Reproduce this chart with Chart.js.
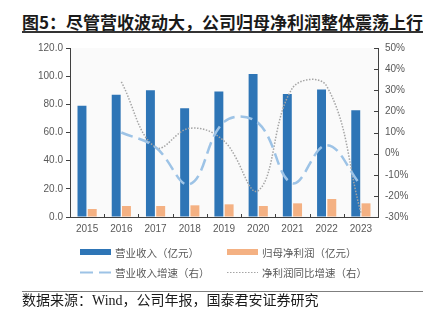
<!DOCTYPE html>
<html>
<head>
<meta charset="utf-8">
<script src="https://cdn.jsdelivr.net/npm/chart.js@4.4.1/dist/chart.umd.min.js"></script>
<style>
  html, body { margin: 0; padding: 0; background: #fff; }
  #wrap { position: relative; width: 439px; height: 323px; overflow: hidden; }
  #chart { position: absolute; left: 0; top: 0; }
  .title {
    position: absolute; left: 22px; top: 12px; white-space: nowrap;
    font: bold 17px "Noto Sans CJK SC", sans-serif; line-height: 20px; color: #1a1a1a;
  }
  .rule { position: absolute; left: 22px; width: 401px; }
  .legend-item {
    position: absolute; white-space: nowrap; height: 14px; line-height: 14px;
    font: 10.5px "Noto Sans CJK SC", sans-serif; color: #595959;
  }
  .legend-item svg { position: absolute; left: 0; top: 0; }
  .legend-item span { position: absolute; left: 35px; top: 0; }
  .source {
    position: absolute; left: 22px; top: 292px; white-space: nowrap;
    font: 14px "Liberation Serif", "Noto Sans CJK SC", serif; line-height: 18px; color: #1a1a1a;
  }
</style>
</head>
<body>
<div id="wrap">
  <div class="title">图5：尽管营收波动大，公司归母净利润整体震荡上行</div>
  <div class="rule" style="top:31px;height:2px;background:#333;"></div>
  <canvas id="chart" width="439" height="323"></canvas>
  <div id="legend"></div>
  <div class="rule" style="top:291px;height:1px;background:#7f7f7f;"></div>
  <div class="source">数据来源：Wind，公司年报，国泰君安证券研究</div>
</div>
<script>
const years = ["2015", "2016", "2017", "2018", "2019", "2020", "2021", "2022", "2023"];
const revenue = [79.0, 86.8, 90.0, 77.2, 89.2, 101.5, 87.3, 90.6, 75.8];
const netProfit = [5.7, 7.8, 7.8, 8.3, 9.0, 7.8, 9.7, 12.8, 9.7];
const revenueGrowth = [null, 10, 3, -14.5, 15, 14.5, -14, 4, -15];
const profitGrowth = [null, 34, 3, 12, 6, -17.5, 31, 32, -28];

const leftTicks = [0, 20, 40, 60, 80, 100, 120];
const rightTicks = [-30, -20, -10, 0, 10, 20, 30, 40, 50];

const BLUE = "#2E75B6";
const ORANGE = "#F4B183";
const LIGHT_BLUE = "#9DC3E6";
const GREY = "#A5A5A5";
const AXIS = "#404040";
const LABEL = "#595959";

Chart.defaults.font.family = "'Liberation Sans', Arial, sans-serif";
Chart.defaults.font.size = 10;
Chart.defaults.color = LABEL;

const legendItems = [
  { label: "营业收入（亿元）", x: 80, y: 245, kind: "box", color: BLUE },
  { label: "归母净利润（亿元）", x: 227, y: 245, kind: "box", color: ORANGE },
  { label: "营业收入增速（右）", x: 80, y: 265, kind: "dash", color: LIGHT_BLUE },
  { label: "净利润同比增速（右）", x: 227, y: 265, kind: "dot", color: GREY },
];

function renderLegend() {
  document.querySelector("#legend").innerHTML = legendItems
    .map((item) => {
      let mark;
      if (item.kind === "box") {
        mark = `<rect x="0" y="4" width="31" height="6" fill="${item.color}"/>`;
      } else if (item.kind === "dash") {
        mark = `<line x1="0" y1="7.5" x2="31" y2="7.5" stroke="${item.color}" stroke-width="2" stroke-dasharray="13 6"/>`;
      } else {
        mark = `<line x1="0" y1="7.5" x2="31" y2="7.5" stroke="${item.color}" stroke-width="1" stroke-dasharray="1.5 1.5"/>`;
      }
      return `
        <div class="legend-item" style="left:${item.x}px;top:${item.y}px;">
          <svg width="32" height="14">${mark}</svg>
          <span>${item.label}</span>
        </div>`;
    })
    .join("");
}

// plot background plus the small inward ticks on the right and bottom axes
const axisDecor = {
  id: "axisDecor",
  beforeDraw(chart) {
    const { ctx, chartArea } = chart;
    ctx.save();
    ctx.fillStyle = "#FAFAFA";
    ctx.fillRect(chartArea.left, chartArea.top, chartArea.right - chartArea.left, chartArea.bottom - chartArea.top);
    ctx.restore();
  },
  afterDraw(chart) {
    const { ctx, chartArea, scales } = chart;
    ctx.save();
    ctx.strokeStyle = AXIS;
    ctx.lineWidth = 1;
    ctx.beginPath();
    rightTicks.forEach((value) => {
      const y = Math.round(scales.y1.getPixelForValue(value)) + 0.5;
      ctx.moveTo(chartArea.right - 4, y);
      ctx.lineTo(chartArea.right, y);
    });
    const step = (chartArea.right - chartArea.left) / years.length;
    for (let i = 1; i < years.length; i++) {
      const x = Math.round(chartArea.left + step * i) + 0.5;
      ctx.moveTo(x, chartArea.bottom);
      ctx.lineTo(x, chartArea.bottom - 3);
    }
    ctx.stroke();
    ctx.restore();
  },
};

function renderChart() {
  new Chart(document.querySelector("#chart"), {
    data: {
      labels: years,
      datasets: [
        {
          type: "line",
          label: "营业收入增速（右）",
          data: revenueGrowth,
          yAxisID: "y1",
          borderColor: LIGHT_BLUE,
          borderWidth: 2.5,
          borderDash: [12, 6],
          pointRadius: 0,
          tension: 0.4,
          fill: false,
          order: 0,
        },
        {
          type: "line",
          label: "净利润同比增速（右）",
          data: profitGrowth,
          yAxisID: "y1",
          borderColor: GREY,
          borderWidth: 1.5,
          borderDash: [1.5, 1.5],
          pointRadius: 0,
          tension: 0.4,
          fill: false,
          order: 1,
        },
        {
          type: "bar",
          label: "营业收入（亿元）",
          data: revenue,
          yAxisID: "y",
          backgroundColor: BLUE,
          categoryPercentage: 0.6,
          barPercentage: 0.87,
          order: 2,
        },
        {
          type: "bar",
          label: "归母净利润（亿元）",
          data: netProfit,
          yAxisID: "y",
          backgroundColor: ORANGE,
          categoryPercentage: 0.6,
          barPercentage: 0.87,
          order: 3,
        },
      ],
    },
    options: {
      responsive: false,
      animation: false,
      layout: { padding: { top: 48, bottom: 82, left: 0, right: 0 } },
      plugins: {
        legend: { display: false },
        tooltip: { enabled: false },
      },
      scales: {
        x: {
          grid: { display: false, drawTicks: false },
          border: { display: true, color: AXIS, width: 1 },
          ticks: { padding: 6, color: LABEL, maxRotation: 0 },
          afterFit: (scale) => {
            scale.height = 24;
          },
        },
        y: {
          position: "left",
          min: 0,
          max: 120,
          afterBuildTicks: (scale) => {
            scale.ticks = leftTicks.map((value) => ({ value }));
          },
          grid: { drawOnChartArea: false, drawTicks: true, tickLength: 4, tickColor: AXIS },
          border: { display: true, color: AXIS, width: 1 },
          ticks: { padding: 3, color: LABEL, callback: (value) => Number(value).toFixed(1) },
          afterFit: (scale) => {
            scale.width = 70;
          },
        },
        y1: {
          position: "right",
          min: -30,
          max: 50,
          afterBuildTicks: (scale) => {
            scale.ticks = rightTicks.map((value) => ({ value }));
          },
          grid: { drawOnChartArea: false, drawTicks: false },
          border: { display: true, color: AXIS, width: 1 },
          ticks: { padding: 7, color: LABEL, callback: (value) => `${value}%` },
          afterFit: (scale) => {
            scale.width = 61;
          },
        },
      },
    },
    plugins: [axisDecor],
  });
}

renderLegend();
renderChart();
</script>
</body>
</html>
